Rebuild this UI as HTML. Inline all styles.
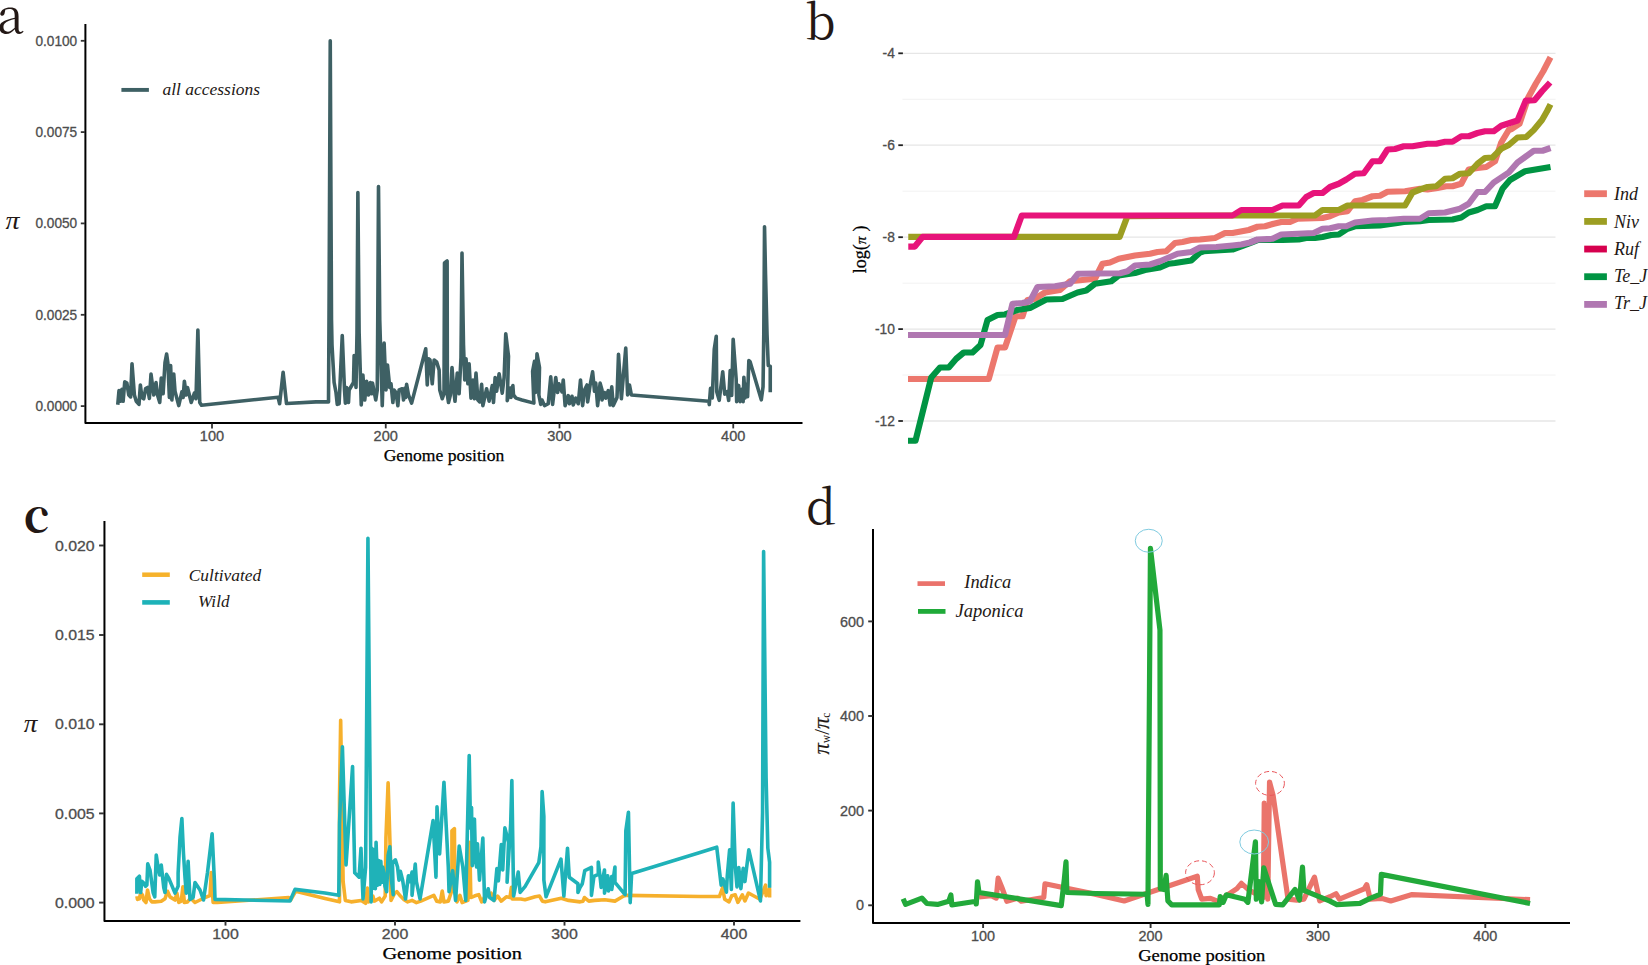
<!DOCTYPE html>
<html lang="en"><head><meta charset="utf-8"><title>Figure</title>
<style>
html,body{margin:0;padding:0;background:#fff;}
body{width:1648px;height:965px;overflow:hidden;}
svg{display:block;}
</style></head><body>
<svg width="1648" height="965" viewBox="0 0 1648 965">
<rect width="1648" height="965" fill="#fff"/>
<g id="panel-a">
<polyline points="117.75,404.75 119,390.62 120.62,401.25 121.88,389.38 123.12,401.25 124.75,381.88 126.88,383.12 128.75,395 130.62,396.88 132,363.75 134.38,395 136.25,401.25 139,404.38 140.38,385 141.88,397.5 143.75,398.75 145.62,388.5 147.5,387.5 149.38,398.5 151,374 153.75,395 156,382.5 157.5,395 159.75,402.5 161.25,378.12 163.12,393.75 165,362.5 166.62,354 167.88,363.12 169.38,397.5 170.62,365.62 171.88,400 173.75,374 175,391.25 178.75,405.62 181.88,391.88 183.12,397.5 184.38,381.25 186.25,395 187.5,387.5 191.25,402.5 194.38,393.12 196,398.75 197.88,330 199.75,402.5 201.5,405.25 278.12,397.25 279.62,403.75 283.12,372.25 286.5,403.5 316,401.88 328.5,401.88 329,320 330.25,40.88 331.5,320 332,345 334.12,382.5 336,392.5 337.25,404.38 339.12,403.75 342.25,335.62 344.5,390 345.38,403.12 346.62,387.5 348.5,402.5 349.12,390 353.5,382.5 354.12,355.62 356,387.5 357,332.5 357.88,192.62 359.12,332.5 361.25,405 362.88,375 364.75,400 366.62,381.25 368.5,395 370.38,382.5 371.62,393.75 372.5,383.12 375.75,400 377.25,390 377.75,320 378.5,186.5 379.75,320 382.25,405.62 384.12,343.12 386,390 387.5,365 389.75,387.5 391,383.75 392.88,402.5 394.12,390 396,392.5 397.88,405.62 399.12,390 402.25,388.75 403.5,400 405,388.12 405.75,397.5 406.62,384.38 408.5,395 411.62,403.12 425.75,348.75 427.25,385 428.5,358.75 430,360 432.25,383.75 434.12,360 436.62,361.88 439.12,370 439.75,390 442.25,398.75 444,393.75 444.5,263 447.12,261 447.38,395 448.5,402.5 450.38,395 452,367.5 453.5,387.5 455,401.25 457.25,373.12 459.12,393.75 461,357.5 462,253 463.5,345 464.75,380 466,358.75 467.88,383.75 469.12,363.75 471,398.12 472.88,380 474.5,398.75 476,373.12 477.88,400 479.75,401.88 481.62,384.38 482.88,405.62 486.62,388.75 489.12,401.25 492.25,385.62 493.5,402.5 495.12,377.5 496.62,391.25 499.12,373.75 502.25,393.12 504.12,377.5 505.75,333.75 508.5,356.25 507.25,400.62 510.38,388.12 511,397.5 512.88,385.62 513.5,395 516,398.12 522,400 533.88,403.12 532.62,371.25 534.5,361.25 535.5,392.5 537,353.75 539.5,367.5 538.88,395 540.75,404.38 542,400 544.5,405.62 548.25,403.75 550.75,376.88 552.62,404.38 555.75,377.5 557.62,392.5 558.88,383.75 562,391.88 563.25,380 565.12,405.62 568.25,395.62 569.5,403.75 572,396.25 573.25,405 575.75,398.12 578.25,403.75 580.5,380 582.62,405.62 584.5,390 587,385 587.62,401.88 590.12,385 592.62,371.88 594.5,391.25 595.75,383.12 597.62,405.62 600.12,383.12 602,390 602,400 604.5,392.5 605.75,398.12 608.25,390.62 610.12,405 611.75,386.88 613.25,405.62 617,397.5 618.5,354.38 621.38,398.75 625.75,348.12 627.62,395 629.5,385 631.38,395 708.88,401.25 709.28,404.58 710.52,388.4 712.26,397.86 714.26,349.33 716.25,336.39 716.74,391.64 719.23,400.35 722.72,371.73 724.71,394.13 727.2,391.64 728.69,400.35 730.18,370.48 731.68,395.37 733.17,339.37 736.16,379.19 736.66,401.59 738.65,385.42 740.14,401.59 742.13,389.15 743.13,401.59 743.87,377.2 745.12,397.86 746.61,384.17 747.61,396.62 748.85,360.53 750.09,361.77 761.29,399.85 763.04,386.66 763.78,334.4 764.53,226.88 765.53,274.66 767.02,334.4 768.26,365.51 770.25,366.25 770.25,392.14" fill="none" stroke="#3e6064" stroke-width="3.6" stroke-linejoin="round" stroke-linecap="butt"/>
<polyline points="85.4,24 85.4,423 802.5,423" fill="none" stroke="#000" stroke-width="2.0" stroke-linejoin="round" stroke-linecap="butt"/>
<line x1="80.8" y1="40.8" x2="85" y2="40.8" stroke="#333" stroke-width="1.8"/>
<text x="77.2" y="45.8" font-size="14" font-family='"Liberation Sans", "DejaVu Sans", sans-serif' fill="#4d4d4d" text-anchor="end" textLength="41.7" lengthAdjust="spacingAndGlyphs" stroke="#4d4d4d" stroke-width="0.3">0.0100</text>
<line x1="80.8" y1="132.1" x2="85" y2="132.1" stroke="#333" stroke-width="1.8"/>
<text x="77.2" y="137.1" font-size="14" font-family='"Liberation Sans", "DejaVu Sans", sans-serif' fill="#4d4d4d" text-anchor="end" textLength="41.7" lengthAdjust="spacingAndGlyphs" stroke="#4d4d4d" stroke-width="0.3">0.0075</text>
<line x1="80.8" y1="223.4" x2="85" y2="223.4" stroke="#333" stroke-width="1.8"/>
<text x="77.2" y="228.4" font-size="14" font-family='"Liberation Sans", "DejaVu Sans", sans-serif' fill="#4d4d4d" text-anchor="end" textLength="41.7" lengthAdjust="spacingAndGlyphs" stroke="#4d4d4d" stroke-width="0.3">0.0050</text>
<line x1="80.8" y1="314.8" x2="85" y2="314.8" stroke="#333" stroke-width="1.8"/>
<text x="77.2" y="319.8" font-size="14" font-family='"Liberation Sans", "DejaVu Sans", sans-serif' fill="#4d4d4d" text-anchor="end" textLength="41.7" lengthAdjust="spacingAndGlyphs" stroke="#4d4d4d" stroke-width="0.3">0.0025</text>
<line x1="80.8" y1="406.1" x2="85" y2="406.1" stroke="#333" stroke-width="1.8"/>
<text x="77.2" y="411.1" font-size="14" font-family='"Liberation Sans", "DejaVu Sans", sans-serif' fill="#4d4d4d" text-anchor="end" textLength="41.7" lengthAdjust="spacingAndGlyphs" stroke="#4d4d4d" stroke-width="0.3">0.0000</text>
<line x1="212" y1="423.5" x2="212" y2="428.4" stroke="#333" stroke-width="1.8"/>
<text x="212" y="441.2" font-size="14" font-family='"Liberation Sans", "DejaVu Sans", sans-serif' fill="#4d4d4d" text-anchor="middle" textLength="24.3" lengthAdjust="spacingAndGlyphs" stroke="#4d4d4d" stroke-width="0.3">100</text>
<line x1="385.75" y1="423.5" x2="385.75" y2="428.4" stroke="#333" stroke-width="1.8"/>
<text x="385.75" y="441.2" font-size="14" font-family='"Liberation Sans", "DejaVu Sans", sans-serif' fill="#4d4d4d" text-anchor="middle" textLength="24.3" lengthAdjust="spacingAndGlyphs" stroke="#4d4d4d" stroke-width="0.3">200</text>
<line x1="559.5" y1="423.5" x2="559.5" y2="428.4" stroke="#333" stroke-width="1.8"/>
<text x="559.5" y="441.2" font-size="14" font-family='"Liberation Sans", "DejaVu Sans", sans-serif' fill="#4d4d4d" text-anchor="middle" textLength="24.3" lengthAdjust="spacingAndGlyphs" stroke="#4d4d4d" stroke-width="0.3">300</text>
<line x1="733.25" y1="423.5" x2="733.25" y2="428.4" stroke="#333" stroke-width="1.8"/>
<text x="733.25" y="441.2" font-size="14" font-family='"Liberation Sans", "DejaVu Sans", sans-serif' fill="#4d4d4d" text-anchor="middle" textLength="24.3" lengthAdjust="spacingAndGlyphs" stroke="#4d4d4d" stroke-width="0.3">400</text>
<text x="444" y="461.4" font-size="17.6" font-family='"Liberation Serif", "DejaVu Serif", serif' fill="#000" text-anchor="middle" stroke="#000" stroke-width="0.25">Genome position</text>
<text x="5.5" y="229.3" font-size="26" font-family='"Liberation Serif", serif' font-style="italic" fill="#231815" textLength="14" lengthAdjust="spacingAndGlyphs">π</text>
<text x="-3.1" y="33.3" font-size="48.6" font-family='"Noto Serif CJK SC", "Liberation Serif", serif' fill="#231815">a</text>
<line x1="121.4" y1="89.9" x2="148.9" y2="89.9" stroke="#3e6064" stroke-width="3.9"/>
<text x="162.5" y="95" font-size="17.5" font-family='"Liberation Serif", "DejaVu Serif", serif' fill="#231815" font-style="italic" textLength="97.5" lengthAdjust="spacingAndGlyphs">all accessions</text>
</g>
<g id="panel-b">
<line x1="902.5" y1="99.3" x2="1555.5" y2="99.3" stroke="#f0f0f0" stroke-width="0.9"/>
<line x1="902.5" y1="191.2" x2="1555.5" y2="191.2" stroke="#f0f0f0" stroke-width="0.9"/>
<line x1="902.5" y1="283.2" x2="1555.5" y2="283.2" stroke="#f0f0f0" stroke-width="0.9"/>
<line x1="902.5" y1="375.1" x2="1555.5" y2="375.1" stroke="#f0f0f0" stroke-width="0.9"/>
<line x1="902.5" y1="53.3" x2="1555.5" y2="53.3" stroke="#e6e6e6" stroke-width="1.3"/>
<line x1="902.5" y1="145.2" x2="1555.5" y2="145.2" stroke="#e6e6e6" stroke-width="1.3"/>
<line x1="902.5" y1="237.2" x2="1555.5" y2="237.2" stroke="#e6e6e6" stroke-width="1.3"/>
<line x1="902.5" y1="329.1" x2="1555.5" y2="329.1" stroke="#e6e6e6" stroke-width="1.3"/>
<line x1="902.5" y1="421" x2="1555.5" y2="421" stroke="#e6e6e6" stroke-width="1.3"/>
<polyline points="908,379 988.75,379 997.5,347.5 1005,347.5 1015.5,316.25 1022.5,316.25 1027.5,300 1035,298.75 1045,292.5 1060,290 1070,281.25 1095,278.75 1102.5,263.75 1110,262.5 1118.75,258.75 1135,255.5 1150,253.75 1157.5,252 1166.25,251.25 1175,243 1182.5,242 1191.25,240 1200,239.5 1215,238 1225,233 1232.5,233 1248.75,230 1257.5,226.75 1265,226.25 1273.75,223.75 1281.25,222 1290,222 1297.5,218.75 1322.5,218 1330,216.25 1338.75,212.5 1347.5,211.25 1355,201.25 1362.5,200 1372.5,196.25 1380,195.75 1387.5,191.75 1405,191.25 1412.5,190 1420,188.75 1427.5,189.5 1437.5,188 1446.25,186.25 1452.5,186.25 1461.25,183.75 1468.75,169.5 1477.5,168 1486.25,167 1495,161.25 1501.25,142.5 1508.75,130 1512,128.75 1519.5,123.75 1528.25,97.5 1535.75,83.75 1543.25,71.25 1550.5,57.25" fill="none" stroke="#ec776d" stroke-width="6.2" stroke-linejoin="round" stroke-linecap="butt"/>
<polyline points="908.28,236.91 1119.63,236.91 1127.45,216.04 1235,215.5 1315,215.5 1322.5,210 1338.75,210 1347.5,205.5 1405,205.5 1412.5,192.5 1420,189.5 1427.5,187 1436.25,186.25 1445,178.75 1452.5,178.25 1460,173.75 1468.75,173.25 1477.5,163.75 1485,158 1492.5,157.5 1501.25,148.75 1508.75,145 1517.5,137.5 1526.25,137 1533.75,130 1542,120 1547,111.25 1550.5,104.38" fill="none" stroke="#9c9e22" stroke-width="6.2" stroke-linejoin="round" stroke-linecap="butt"/>
<polyline points="908.28,246.57 914.8,246.57 922.63,236.91 1013.95,236.91 1021.78,215.52 1232.5,215.5 1241.25,210 1272.5,210 1282.5,205.5 1298.75,205.5 1306.25,197 1313.75,193 1322.5,193 1330,187 1338.75,183.75 1346.25,179.5 1355,173.75 1363.75,173.25 1372.5,161.25 1380,161.25 1387.5,149.5 1395,149 1403.75,146.25 1412.5,146.25 1427.5,143.75 1436.25,143.75 1445,141.75 1452.5,141.75 1461.25,136.25 1468.75,136.25 1477.5,133 1485,131.25 1493.75,131.25 1501.25,125.75 1517.5,120.5 1525.75,100.62 1534.5,100.25 1542,91.25 1550.12,82.5" fill="none" stroke="#e7147a" stroke-width="6.2" stroke-linejoin="round" stroke-linecap="butt"/>
<polyline points="908,440.75 915.5,440.75 931.25,377.5 940,367.5 948.75,367.5 956.25,358.75 963.75,352.5 972.5,352.5 980.5,345 987.5,320 997.5,315 1005,314.5 1017.5,310 1030,308 1046.25,299.5 1062.5,299 1077.5,292.5 1086.25,290.5 1095,283.75 1111.25,281.25 1118.75,275.5 1135,273 1145,270 1160,267.5 1168.75,263.75 1175,263 1191.25,260.5 1200,252.5 1203.75,251.25 1232.5,249.5 1241.25,246.25 1250,243 1257.5,240 1282.5,240 1298.75,239.5 1306.25,238 1315,238 1322.5,237 1331.25,235 1338.75,234.5 1347.5,228.75 1355,226.25 1380,225.5 1397.5,223 1403.75,222 1420,221.25 1428.75,220 1452.5,219.5 1461.25,217.5 1468.75,212.5 1477.5,210 1486.25,206.25 1495,206.25 1502.5,188.75 1510,180 1525,171.25 1550.5,167" fill="none" stroke="#009443" stroke-width="6.2" stroke-linejoin="round" stroke-linecap="butt"/>
<polyline points="908,335 1005,335 1012.5,303.75 1022.5,303 1030,301.25 1037.5,287 1055,286.25 1070,283.75 1078,273.75 1120,273.25 1127.5,271.25 1135,265.5 1150,264.5 1160,261.25 1170,257 1177.5,253.75 1191.25,252 1200,247.5 1216.25,247 1232.5,245.5 1241.25,244.5 1250,242.5 1257.5,239.5 1272.5,238.75 1281.25,234.5 1313.75,233 1322.5,228.75 1330,228.25 1338.75,226.25 1346.25,226.25 1355,222.5 1372.5,220.5 1387.5,220 1403.75,218.75 1420,218.75 1428.75,213.25 1445,212.5 1460,208.75 1468.75,203.75 1477.5,192 1485,192 1493.75,182.5 1508.75,172.5 1517.5,162.5 1533.75,150.75 1542.5,150.75 1550.5,148" fill="none" stroke="#b077b1" stroke-width="6.2" stroke-linejoin="round" stroke-linecap="butt"/>
<line x1="898.3" y1="53.3" x2="902.9" y2="53.3" stroke="#222" stroke-width="1.8"/>
<text x="894.9" y="58.2" font-size="13.8" font-family='"Liberation Sans", "DejaVu Sans", sans-serif' fill="#4d4d4d" text-anchor="end" stroke="#4d4d4d" stroke-width="0.3">-4</text>
<line x1="898.3" y1="145.2" x2="902.9" y2="145.2" stroke="#222" stroke-width="1.8"/>
<text x="894.9" y="150.1" font-size="13.8" font-family='"Liberation Sans", "DejaVu Sans", sans-serif' fill="#4d4d4d" text-anchor="end" stroke="#4d4d4d" stroke-width="0.3">-6</text>
<line x1="898.3" y1="237.2" x2="902.9" y2="237.2" stroke="#222" stroke-width="1.8"/>
<text x="894.9" y="242.1" font-size="13.8" font-family='"Liberation Sans", "DejaVu Sans", sans-serif' fill="#4d4d4d" text-anchor="end" stroke="#4d4d4d" stroke-width="0.3">-8</text>
<line x1="898.3" y1="329.1" x2="902.9" y2="329.1" stroke="#222" stroke-width="1.8"/>
<text x="894.9" y="334" font-size="13.8" font-family='"Liberation Sans", "DejaVu Sans", sans-serif' fill="#4d4d4d" text-anchor="end" stroke="#4d4d4d" stroke-width="0.3">-10</text>
<line x1="898.3" y1="421" x2="902.9" y2="421" stroke="#222" stroke-width="1.8"/>
<text x="894.9" y="425.9" font-size="13.8" font-family='"Liberation Sans", "DejaVu Sans", sans-serif' fill="#4d4d4d" text-anchor="end" stroke="#4d4d4d" stroke-width="0.3">-12</text>
<text x="866" y="249.3" font-size="18" font-family='"Liberation Serif", "DejaVu Serif", serif' fill="#000" text-anchor="middle" transform="rotate(-90 866 249.3)" stroke="#000" stroke-width="0.25">log(<tspan font-style="italic" font-size="15.5">π</tspan><tspan font-size="20"> </tspan>)</text>
<text x="805" y="38.8" font-size="48" font-family='"Noto Serif CJK SC", "Liberation Serif", serif' fill="#231815">b</text>
<rect x="1584.2" y="190.3" width="22.7" height="6.8" fill="#ec776d"/>
<text x="1613.9" y="199.8" font-size="18" font-family='"Liberation Serif", "DejaVu Serif", serif' fill="#231815" font-style="italic">Ind</text>
<rect x="1584.2" y="218" width="22.7" height="6.8" fill="#9c9e22"/>
<text x="1613.9" y="227.5" font-size="18" font-family='"Liberation Serif", "DejaVu Serif", serif' fill="#231815" font-style="italic">Niv</text>
<rect x="1584.2" y="245.65" width="22.7" height="6.8" fill="#d6004e"/>
<text x="1613.9" y="255" font-size="18" font-family='"Liberation Serif", "DejaVu Serif", serif' fill="#231815" font-style="italic">Ruf</text>
<rect x="1584.2" y="273.3" width="22.7" height="6.8" fill="#009443"/>
<text x="1613.9" y="281.9" font-size="18" font-family='"Liberation Serif", "DejaVu Serif", serif' fill="#231815" font-style="italic">Te_J</text>
<rect x="1584.2" y="301" width="22.7" height="6.8" fill="#b077b1"/>
<text x="1613.9" y="308.9" font-size="18" font-family='"Liberation Serif", "DejaVu Serif", serif' fill="#231815" font-style="italic">Tr_J</text>
</g>
<g id="panel-c">
<polyline points="136.88,896.25 137.5,899.38 139.38,898.75 140.62,893.12 142.5,895 143.75,900 146,902.5 147.5,890 149.38,898.75 151.88,901.88 155,901.88 161.25,901.25 165,898.75 167.5,891.25 170,896.88 175,900 176.88,893.12 178.75,902.5 181.25,901.25 182.88,886.88 184.38,902.5 187.5,901.88 190,898.75 192.5,900 195,902.5 205,897.5 210,895.62 211.25,872.5 213.12,902.5 217.5,902.5 288.75,897.5 290.62,900 295.62,891.25 325,898.5 339.51,901.86 339.51,797.41 340.67,720.23 343.13,881.55 345.31,900.41 351.11,901.86 361.27,900.41 365.62,903.31 367.36,888.08 368.52,901.86 372.87,896.06 374.33,901.14 379.4,898.24 381.58,901.86 385.21,896.06 385.93,838.03 388.11,782.9 390.28,852.54 391.01,900.41 394.64,893.16 396.81,891.71 400.44,896.06 404.07,899.69 407.69,901.86 412.04,900.41 416.4,902.59 420.75,901.14 433.81,895.33 436.71,901.14 440.33,901.86 442.22,890.98 443.96,901.86 448.31,901.14 451.94,890.26 451.94,830.78 454.41,828.6 454.84,890.26 457.02,901.86 459.92,895.33 462.1,902.59 467.9,900.41 469.78,842.38 470.8,897.51 474.43,896.06 476.6,895.33 478.78,894.61 481.68,901.86 486.03,894.61 491.11,893.16 494.01,900.41 497.64,896.06 501.27,901.14 506.34,896.79 509.97,897.51 511.42,887.36 512.15,898.96 520.85,898.96 525,899.69 535.16,896.79 539.51,896.06 542.41,901.14 545.31,901.86 561.27,898.24 568.52,900.41 580.13,901.86 583.03,901.14 584.48,897.51 588.83,901.14 594.64,900.41 604.79,899.69 614.95,901.14 623.65,896.06 626.55,895.33 700,896.56 719.38,896.56 722.56,887.75 724.67,899.21 729.07,901.85 731.72,895.68 735.24,894.8 737.89,902.38 742.29,894.8 744.93,900.97 748.46,893.04 759.91,899.21 765.55,885.11 766.08,895.68 769.6,888.63 769.6,897.44" fill="none" stroke="#f6b02c" stroke-width="3.6" stroke-linejoin="round" stroke-linecap="butt"/>
<polyline points="136.88,893.75 136.88,878.75 139.38,876.25 140.62,892.5 141.88,881.25 143.75,883.12 145.62,886.25 146.88,885 147.75,863.75 150,870 153.12,892.5 154.75,896.88 156.25,855 158.12,867.5 159.75,875 161.25,865 163.75,887.5 165,892.5 166.5,874.38 168.75,878.12 175,893.12 178.12,886.25 178.12,873.12 180,837.5 181.88,818.5 183.5,853.75 185,877.5 186.25,893.12 188.12,861.25 190,899.38 193.12,897.5 195,882.5 200,890 203.5,900 207.5,872.5 212.12,833.75 214.38,880 215,899.38 290,901 295,889.38 325,893 338.78,895.33 339.51,823.52 342.41,746.92 346.04,864.87 352.56,766.65 354.74,872.85 359.09,877.2 360.98,848.19 363.01,898.96 365.62,867.04 367.94,538.31 371.13,901.86 371.86,848.19 373.45,888.08 374.33,849.64 375.34,888.81 376.07,842.38 377.52,885.18 378.68,860.52 379.84,884.45 380.85,861.24 381.87,882.28 382.74,867.04 383.76,872.85 384.92,885.9 386.66,891.71 388.11,855.44 389.85,846.73 391.44,880.1 393.19,894.61 392.46,862.69 395.36,859.79 397.54,867.04 398.99,880.1 400.44,871.4 402.61,880.1 405.52,898.96 408.42,875.75 409.87,881.55 412.04,872.12 412.04,895.33 415.24,864.14 416.4,881.55 420.02,898.96 433.08,820.62 435.98,877.2 437,806.84 439.61,853.99 443.96,782.18 448.31,867.04 449.04,891.71 452.67,870.67 455.57,900.41 459.19,846.01 462.82,867.04 465.72,900.41 467.9,809.01 469.2,755.63 470.51,827.87 471.53,807.56 472.25,865.59 473.27,823.52 474.43,819.17 475.59,861.24 476.6,867.04 477.47,843.83 479.5,880.1 482.84,838.03 484.58,901.86 488.21,888.81 489.66,897.51 494.01,900.41 496.91,868.5 498.36,880.83 501.27,844.56 502.72,869.95 504.89,827.87 508.52,842.38 507.07,882.28 510.7,823.52 511.86,780.44 513.6,896.06 518.24,872.12 520.13,892.43 525,886.63 538.78,862.69 540.96,846.73 542.12,791.61 543.86,816.27 543.86,880.1 546.04,896.79 560.98,859.07 563.88,896.06 567.51,848.19 569.25,877.2 577.95,883.73 577.95,892.43 580.13,887.36 582.3,883.73 584.77,870.67 591.44,867.48 591.44,895.33 593.91,876.47 598.26,874.3 598.26,861.97 600.44,880.1 601.16,887.36 604.5,869.95 604.5,893.16 607.69,875.75 608.42,890.98 611.75,876.47 611.75,889.53 614.95,867.04 614.95,882.28 625.1,894.61 625.83,830.78 628.44,812.21 630.18,902.59 631.63,873.57 700,852.51 716.74,847.22 721.15,885.11 722.91,878.94 726.43,892.16 727.31,875.42 729.6,849.87 731.37,889.52 733.13,803.17 735.24,865.73 737,886.87 738.77,867.49 740.88,888.63 743.17,868.37 744.93,881.59 748.81,849.87 760.44,900.97 762.56,812.86 763.61,551.54 766.08,777.62 767.84,848.11 769.6,862.2 769.6,887.75" fill="none" stroke="#1fb2b8" stroke-width="3.6" stroke-linejoin="round" stroke-linecap="butt"/>
<polyline points="104.45,521 104.45,921 800.4,921" fill="none" stroke="#000" stroke-width="2.0" stroke-linejoin="round" stroke-linecap="butt"/>
<line x1="99.1" y1="545.5" x2="104" y2="545.5" stroke="#333" stroke-width="1.9"/>
<text x="94.7" y="550.6" font-size="14.5" font-family='"Liberation Sans", "DejaVu Sans", sans-serif' fill="#4d4d4d" text-anchor="end" textLength="39.7" lengthAdjust="spacingAndGlyphs" stroke="#4d4d4d" stroke-width="0.3">0.020</text>
<line x1="99.1" y1="635" x2="104" y2="635" stroke="#333" stroke-width="1.9"/>
<text x="94.7" y="640.1" font-size="14.5" font-family='"Liberation Sans", "DejaVu Sans", sans-serif' fill="#4d4d4d" text-anchor="end" textLength="39.7" lengthAdjust="spacingAndGlyphs" stroke="#4d4d4d" stroke-width="0.3">0.015</text>
<line x1="99.1" y1="724.3" x2="104" y2="724.3" stroke="#333" stroke-width="1.9"/>
<text x="94.7" y="729.4" font-size="14.5" font-family='"Liberation Sans", "DejaVu Sans", sans-serif' fill="#4d4d4d" text-anchor="end" textLength="39.7" lengthAdjust="spacingAndGlyphs" stroke="#4d4d4d" stroke-width="0.3">0.010</text>
<line x1="99.1" y1="813.4" x2="104" y2="813.4" stroke="#333" stroke-width="1.9"/>
<text x="94.7" y="818.5" font-size="14.5" font-family='"Liberation Sans", "DejaVu Sans", sans-serif' fill="#4d4d4d" text-anchor="end" textLength="39.7" lengthAdjust="spacingAndGlyphs" stroke="#4d4d4d" stroke-width="0.3">0.005</text>
<line x1="99.1" y1="902.6" x2="104" y2="902.6" stroke="#333" stroke-width="1.9"/>
<text x="94.7" y="907.7" font-size="14.5" font-family='"Liberation Sans", "DejaVu Sans", sans-serif' fill="#4d4d4d" text-anchor="end" textLength="39.7" lengthAdjust="spacingAndGlyphs" stroke="#4d4d4d" stroke-width="0.3">0.000</text>
<line x1="225.5" y1="921" x2="225.5" y2="925.6" stroke="#333" stroke-width="1.9"/>
<text x="225.5" y="938.8" font-size="14.5" font-family='"Liberation Sans", "DejaVu Sans", sans-serif' fill="#4d4d4d" text-anchor="middle" textLength="26.5" lengthAdjust="spacingAndGlyphs" stroke="#4d4d4d" stroke-width="0.3">100</text>
<line x1="395" y1="921" x2="395" y2="925.6" stroke="#333" stroke-width="1.9"/>
<text x="395" y="938.8" font-size="14.5" font-family='"Liberation Sans", "DejaVu Sans", sans-serif' fill="#4d4d4d" text-anchor="middle" textLength="26.5" lengthAdjust="spacingAndGlyphs" stroke="#4d4d4d" stroke-width="0.3">200</text>
<line x1="564.5" y1="921" x2="564.5" y2="925.6" stroke="#333" stroke-width="1.9"/>
<text x="564.5" y="938.8" font-size="14.5" font-family='"Liberation Sans", "DejaVu Sans", sans-serif' fill="#4d4d4d" text-anchor="middle" textLength="26.5" lengthAdjust="spacingAndGlyphs" stroke="#4d4d4d" stroke-width="0.3">300</text>
<line x1="734" y1="921" x2="734" y2="925.6" stroke="#333" stroke-width="1.9"/>
<text x="734" y="938.8" font-size="14.5" font-family='"Liberation Sans", "DejaVu Sans", sans-serif' fill="#4d4d4d" text-anchor="middle" textLength="26.5" lengthAdjust="spacingAndGlyphs" stroke="#4d4d4d" stroke-width="0.3">400</text>
<text x="452.2" y="959" font-size="17" font-family='"Liberation Serif", "DejaVu Serif", serif' fill="#000" text-anchor="middle" textLength="139.5" lengthAdjust="spacingAndGlyphs" stroke="#000" stroke-width="0.25">Genome position</text>
<text x="23.7" y="732.2" font-size="25.5" font-family='"Liberation Serif", serif' font-style="italic" fill="#231815" textLength="13.6" lengthAdjust="spacingAndGlyphs">π</text>
<text x="23.8" y="532.4" font-size="45.5" font-family='"Noto Serif CJK SC", "Liberation Serif", serif' fill="#231815" font-weight="bold">c</text>
<line x1="142.2" y1="574.7" x2="169.8" y2="574.7" stroke="#f6b22b" stroke-width="4.5"/>
<line x1="142.2" y1="602.4" x2="169.8" y2="602.4" stroke="#1db2b8" stroke-width="4.6"/>
<text x="188.75" y="581.25" font-size="17.5" font-family='"Liberation Serif", "DejaVu Serif", serif' fill="#231815" font-style="italic" textLength="72.5" lengthAdjust="spacingAndGlyphs">Cultivated</text>
<text x="198" y="606.8" font-size="17.5" font-family='"Liberation Serif", "DejaVu Serif", serif' fill="#231815" font-style="italic" textLength="31.5" lengthAdjust="spacingAndGlyphs">Wild</text>
</g>
<g id="panel-d">
<polyline points="979,896.88 991.25,895.62 996.25,898.12 998.12,878.12 1001.88,887.5 1006.88,901.25 1017.5,898.12 1021.25,901.25 1043.75,897.5 1045,883.75 1096,894.38 1124.19,900.94 1197.3,876.28 1198.18,889.49 1201.71,899.18 1210.52,898.3 1219.33,901.83 1226.37,895.66 1236.94,888.61 1241.35,883.33 1249.28,890.37 1263.37,897.42 1264.25,803.16 1267.78,899.18 1269.54,782.02 1273.06,795.24 1288.04,899.18 1296.85,900.06 1303.89,899.18 1314.46,877.16 1319.75,900.94 1329.97,896.72 1335.98,893.71 1339.4,899.18 1364.2,888.92 1366.76,884.64 1370.18,899.18 1381.3,898.32 1390.7,900.89 1412.08,894.56 1530.07,899.69" fill="none" stroke="#ea746b" stroke-width="5.2" stroke-linejoin="round" stroke-linecap="butt"/>
<polyline points="903.12,898.75 905.62,904.38 921.88,898.12 926.88,903.5 937.5,904.38 948.75,901.25 950.88,895 951.88,905 976.25,901.25 976.25,904 977.5,881.88 979,892.5 1061.25,905.62 1064.38,878.75 1066,861.88 1066.88,892.5 1096,893.5 1147.09,894.25 1147.97,904.47 1150.44,548.41 1159.95,629.98 1160.31,888.61 1163.83,889.49 1166.12,875.4 1167.88,900.94 1171.76,904.82 1219.33,904.82 1220.21,896.54 1223.2,902.35 1226.37,894.78 1244.87,899.18 1247.87,902.35 1255.44,841.92 1256.32,899.18 1258.97,881.56 1261.61,901.83 1263.72,867.82 1275.7,904.47 1282.75,904.82 1295.08,889.49 1299.49,900.06 1302.48,867.12 1303.89,890.37 1329.97,901.12 1336.84,904.65 1359.92,903.45 1370.18,898.32 1380.44,894.05 1381.3,874.38 1530.07,903.45" fill="none" stroke="#22a93a" stroke-width="5.2" stroke-linejoin="round" stroke-linecap="butt"/>
<polyline points="873,529 873,923 1570,923" fill="none" stroke="#000" stroke-width="2.0" stroke-linejoin="round" stroke-linecap="butt"/>
<line x1="868.2" y1="621.4" x2="872.6" y2="621.4" stroke="#333" stroke-width="1.9"/>
<text x="864" y="626.5" font-size="14.2" font-family='"Liberation Sans", "DejaVu Sans", sans-serif' fill="#4d4d4d" text-anchor="end" textLength="24" lengthAdjust="spacingAndGlyphs" stroke="#4d4d4d" stroke-width="0.3">600</text>
<line x1="868.2" y1="716" x2="872.6" y2="716" stroke="#333" stroke-width="1.9"/>
<text x="864" y="721.1" font-size="14.2" font-family='"Liberation Sans", "DejaVu Sans", sans-serif' fill="#4d4d4d" text-anchor="end" textLength="24" lengthAdjust="spacingAndGlyphs" stroke="#4d4d4d" stroke-width="0.3">400</text>
<line x1="868.2" y1="810.6" x2="872.6" y2="810.6" stroke="#333" stroke-width="1.9"/>
<text x="864" y="815.7" font-size="14.2" font-family='"Liberation Sans", "DejaVu Sans", sans-serif' fill="#4d4d4d" text-anchor="end" textLength="24" lengthAdjust="spacingAndGlyphs" stroke="#4d4d4d" stroke-width="0.3">200</text>
<line x1="868.2" y1="905.3" x2="872.6" y2="905.3" stroke="#333" stroke-width="1.9"/>
<text x="864" y="910.4" font-size="14.2" font-family='"Liberation Sans", "DejaVu Sans", sans-serif' fill="#4d4d4d" text-anchor="end" textLength="8" lengthAdjust="spacingAndGlyphs" stroke="#4d4d4d" stroke-width="0.3">0</text>
<line x1="983.1" y1="923.5" x2="983.1" y2="928" stroke="#333" stroke-width="1.9"/>
<text x="983.1" y="941" font-size="14.2" font-family='"Liberation Sans", "DejaVu Sans", sans-serif' fill="#4d4d4d" text-anchor="middle" textLength="24" lengthAdjust="spacingAndGlyphs" stroke="#4d4d4d" stroke-width="0.3">100</text>
<line x1="1150.6" y1="923.5" x2="1150.6" y2="928" stroke="#333" stroke-width="1.9"/>
<text x="1150.6" y="941" font-size="14.2" font-family='"Liberation Sans", "DejaVu Sans", sans-serif' fill="#4d4d4d" text-anchor="middle" textLength="24" lengthAdjust="spacingAndGlyphs" stroke="#4d4d4d" stroke-width="0.3">200</text>
<line x1="1318" y1="923.5" x2="1318" y2="928" stroke="#333" stroke-width="1.9"/>
<text x="1318" y="941" font-size="14.2" font-family='"Liberation Sans", "DejaVu Sans", sans-serif' fill="#4d4d4d" text-anchor="middle" textLength="24" lengthAdjust="spacingAndGlyphs" stroke="#4d4d4d" stroke-width="0.3">300</text>
<line x1="1485.3" y1="923.5" x2="1485.3" y2="928" stroke="#333" stroke-width="1.9"/>
<text x="1485.3" y="941" font-size="14.2" font-family='"Liberation Sans", "DejaVu Sans", sans-serif' fill="#4d4d4d" text-anchor="middle" textLength="24" lengthAdjust="spacingAndGlyphs" stroke="#4d4d4d" stroke-width="0.3">400</text>
<text x="1201.7" y="961.3" font-size="17.2" font-family='"Liberation Serif", "DejaVu Serif", serif' fill="#000" text-anchor="middle" textLength="127.1" lengthAdjust="spacingAndGlyphs" stroke="#000" stroke-width="0.25">Genome position</text>
<text x="806" y="524.4" font-size="48" font-family='"Noto Serif CJK SC", "Liberation Serif", serif' fill="#231815">d</text>
<line x1="917.5" y1="583.6" x2="945" y2="583.6" stroke="#ea726b" stroke-width="4.7"/>
<line x1="918" y1="611.4" x2="945.5" y2="611.4" stroke="#1faa39" stroke-width="4.8"/>
<text x="964.25" y="587.5" font-size="18" font-family='"Liberation Serif", "DejaVu Serif", serif' fill="#231815" font-style="italic" textLength="47" lengthAdjust="spacingAndGlyphs">Indica</text>
<text x="955.5" y="616.75" font-size="18" font-family='"Liberation Serif", "DejaVu Serif", serif' fill="#231815" font-style="italic" textLength="68" lengthAdjust="spacingAndGlyphs">Japonica</text>
<text x="829" y="733.5" font-size="20" font-family='"Liberation Serif", "DejaVu Serif", serif' fill="#231815" text-anchor="middle" transform="rotate(-90 829 733.5)"><tspan font-style="italic" font-size="22.5" stroke="#231815" stroke-width="0.2">π</tspan><tspan font-size="11.5" dy="1">w</tspan><tspan dy="-1" font-size="21">/</tspan><tspan font-style="italic" font-size="22.5" stroke="#231815" stroke-width="0.2">π</tspan><tspan font-size="11.5" dy="1">c</tspan></text>
<ellipse cx="1148.75" cy="540.75" rx="13.5" ry="11.5" fill="none" stroke="#7fcbe0" stroke-width="1"/>
<ellipse cx="1254.2" cy="842" rx="14.4" ry="12" fill="none" stroke="#7fcbe0" stroke-width="1"/>
<ellipse cx="1200" cy="872.75" rx="14.4" ry="12" fill="none" stroke="#e9565a" stroke-width="1" stroke-dasharray="5 3"/>
<ellipse cx="1270" cy="783.4" rx="14.4" ry="12" fill="none" stroke="#e9565a" stroke-width="1" stroke-dasharray="5 3"/>
</g>
</svg>
</body></html>
